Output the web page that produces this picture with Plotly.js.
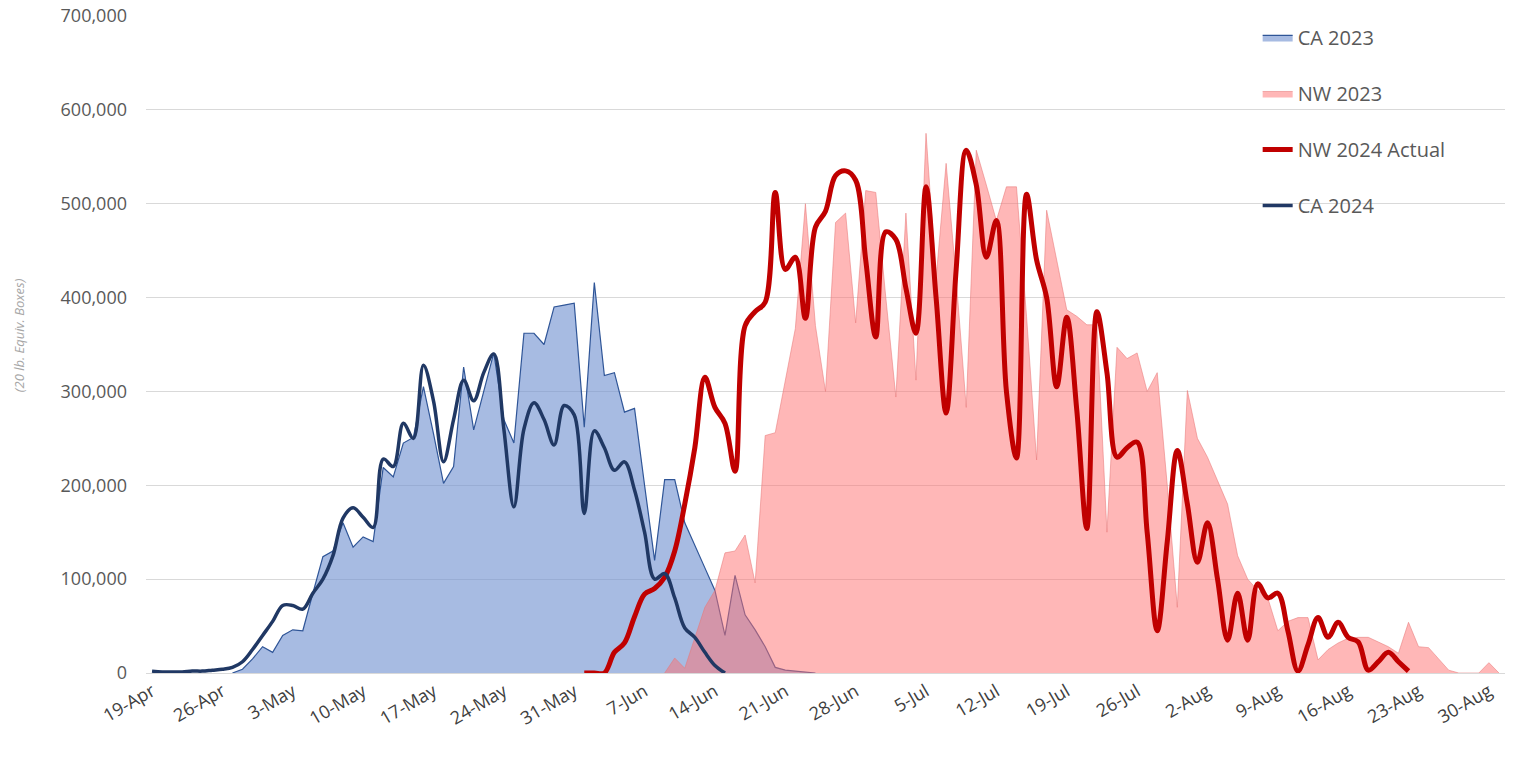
<!DOCTYPE html>
<html>
<head>
<meta charset="utf-8">
<script src="https://cdn.plot.ly/plotly-3.0.1.min.js"></script>
<style>
  html, body { margin: 0; padding: 0; background: #ffffff; }
  #chart { width: 1519px; height: 764px; }
</style>
</head>
<body>
<div id="chart"></div>
<script>
// ---- Data (thousands of 20 lb. equivalent boxes, one value per day) ----
const seriesNames = ['CA 2023', 'NW 2023', 'NW 2024 Actual', 'CA 2024'];

const ca2023Start = '2024-04-27';
const ca2023 = [0,4,15,28,22,40,46,45,85,124, 130,160,134,145,140,219,209,245,251,305,
  255,202,220,326,259,300,341,270,245,362, 362,350,390,392,394,262,416,317,320,278,
  282,200,120,206,206,160,135,112,88,40, 104,62,46,28,6,3,2,1,0];

const nw2023Start = '2024-06-09';
const nw2023 = [0,16,5,38,70,88,128,130,147,96, 253,256,310,367,500,370,300,480,490,373,
  514,512,400,294,490,312,575,420,543,420, 283,557,520,482,518,518,380,227,493,440,
  387,380,371,371,150,347,335,341,300,320, 200,70,301,250,230,205,180,125,100,88,
  80,45,55,59,59,14,25,32,37,38, 38,33,28,21,54,28,27,15,3,0, 0,0,11,0];

const nw2024Start = '2024-06-01';
const nw2024 = [0,0,0,22,32,60,84,90,102,130, 180,240,315,283,266,215,370,385,395,512,
  430,443,378,475,492,530,535,525,440,358, 470,462,410,362,518,400,277,430,557,520,
  443,482,300,229,510,440,400,305,379,280, 154,385,320,230,240,246,150,45,140,237,
  180,118,160,100,35,85,35,95,80,85, 45,2,30,59,38,54,38,33,3,12, 22,12,2];

const ca2024Start = '2024-04-19';
const ca2024 = [2,1,1,1,2,2,3,4,6,12, 25,40,55,72,72,68,85,100,125,165,
  176,166,155,228,220,266,250,328,290,225, 270,312,290,320,340,260,177,260,288,270,
  243,285,275,170,258,240,216,225,195,150, 100,106,80,48,38,22,8,0];

const axisStart = '2024-04-19';
const yTickValues = [0, 100000, 200000, 300000, 400000, 500000, 600000, 700000];
const yAxisTitle = '(20 lb. Equiv. Boxes)';

// ---- helpers ----
const DAY = 86400000;
function dates(start, n) {
  const t0 = Date.parse(start + 'T00:00:00Z');
  const out = [];
  for (let i = 0; i < n; i++) {
    out.push(new Date(t0 + i * DAY).toISOString().slice(0, 10));
  }
  return out;
}
const k = arr => arr.map(v => v * 1000);

const font = 'Open Sans, Lato, Roboto, sans-serif';

const traces = [
  {
    name: seriesNames[0], legendgroup: 'a',
    x: dates(ca2023Start, ca2023.length), y: k(ca2023),
    type: 'scatter', mode: 'lines', fill: 'tozeroy',
    fillcolor: 'rgba(118,148,210,0.64)',
    line: { color: '#2F5597', width: 1.2 },
    hoverinfo: 'skip'
  },
  {
    name: seriesNames[1], legendgroup: 'b',
    x: dates(nw2023Start, nw2023.length), y: k(nw2023),
    type: 'scatter', mode: 'lines', fill: 'tozeroy',
    fillcolor: 'rgba(255,112,112,0.5)',
    line: { color: 'rgba(232,120,120,0.55)', width: 1 },
    hoverinfo: 'skip'
  },
  {
    name: seriesNames[2], legendgroup: 'c',
    x: dates(nw2024Start, nw2024.length), y: k(nw2024),
    type: 'scatter', mode: 'lines',
    line: { color: '#C00000', width: 5, shape: 'spline', smoothing: 1 },
    hoverinfo: 'skip'
  },
  {
    name: seriesNames[3], legendgroup: 'd',
    x: dates(ca2024Start, ca2024.length), y: k(ca2024),
    type: 'scatter', mode: 'lines',
    line: { color: '#203864', width: 3.5, shape: 'spline', smoothing: 1 },
    hoverinfo: 'skip'
  }
];

const t0 = Date.parse(axisStart + 'T00:00:00Z');
const layout = {
  width: 1519, height: 764,
  margin: { l: 146, r: 14, t: 16, b: 91 },
  paper_bgcolor: '#ffffff', plot_bgcolor: '#ffffff',
  font: { family: font, color: '#595959', size: 18 },
  showlegend: true,
  legend: {
    x: 0.818, xanchor: 'left', y: 0.997, yanchor: 'top',
    bgcolor: 'rgba(0,0,0,0)',
    font: { family: font, size: 20, color: '#595959' },
    tracegroupgap: 27, traceorder: 'grouped', itemwidth: 30
  },
  xaxis: {
    type: 'date',
    range: [new Date(t0 - 0.6 * DAY).toISOString(), new Date(t0 + 134.6 * DAY).toISOString()],
    tick0: axisStart, dtick: 7 * DAY,
    tickformat: '%-d-%b', tickangle: -30,
    tickfont: { family: font, size: 18, color: '#404040' },
    showgrid: false, zeroline: false,
    showline: true, linecolor: '#D9D9D9', linewidth: 1,
    ticks: ''
  },
  yaxis: {
    range: [0, 700000],
    tickvals: yTickValues, tickformat: ',d',
    tickfont: { family: font, size: 18, color: '#595959' },
    showgrid: true, gridcolor: '#D9D9D9', gridwidth: 1,
    zeroline: false, showline: false, ticks: '',
    ticklabelstandoff: 18
  },
  annotations: [{
    text: '<i>' + yAxisTitle + '</i>',
    xref: 'paper', yref: 'paper',
    x: -0.0935, y: 0.514, xanchor: 'center', yanchor: 'middle',
    textangle: -90, showarrow: false,
    font: { family: font, size: 13, color: '#A6A6A6' }
  }]
};

Plotly.newPlot('chart', traces, layout, { staticPlot: true, displayModeBar: false });
</script>
</body>
</html>
